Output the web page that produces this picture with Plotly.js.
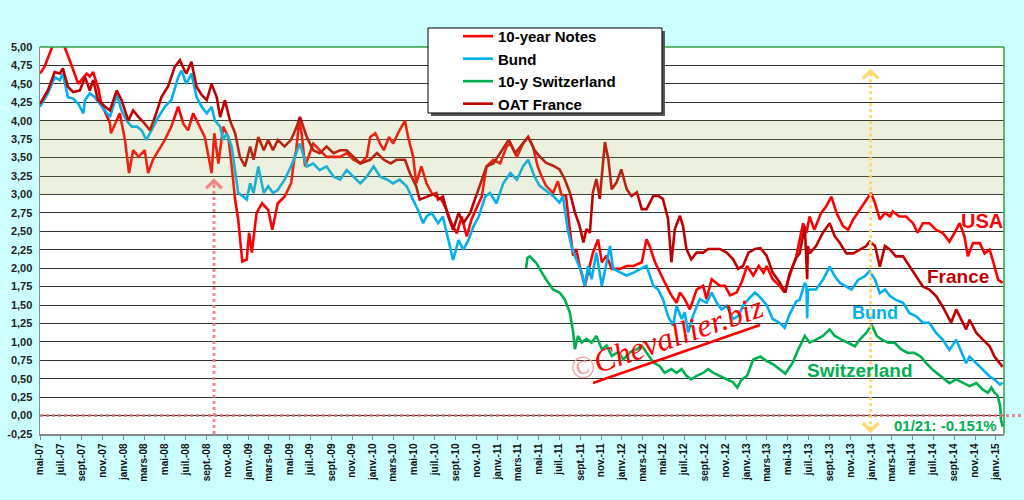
<!DOCTYPE html>
<html>
<head>
<meta charset="utf-8">
<script src="https://cdn.plot.ly/plotly-3.0.1.min.js"></script>
<style>html,body{margin:0;padding:0;background:#CCFFFF;}#chart{width:1024px;height:500px;}</style>
</head>
<body>
<div id="chart"></div>
<script>
// ---------- DATA ----------
const usDates = ['2007-05-01','2007-05-14','2007-06-04','2007-06-13','2007-06-28','2007-07-12','2007-07-27','2007-08-06','2007-08-21','2007-08-30','2007-09-15','2007-09-24','2007-10-04','2007-10-14','2007-10-18','2007-10-28','2007-11-22','2007-11-25','2007-12-07','2007-12-21',
'2008-01-05','2008-01-17','2008-01-29','2008-02-14','2008-03-03','2008-03-13','2008-03-27','2008-04-12','2008-05-01','2008-05-20','2008-06-09','2008-06-24','2008-07-08','2008-07-23','2008-08-07','2008-08-26','2008-09-10','2008-09-15','2008-09-23','2008-10-05','2008-10-19','2008-11-03','2008-11-13','2008-11-23','2008-12-02','2008-12-14','2008-12-27',
'2009-01-03','2009-01-11','2009-01-25','2009-02-10','2009-02-28','2009-03-12','2009-03-28','2009-04-17','2009-05-06','2009-05-15','2009-05-21','2009-05-30','2009-06-06','2009-06-16','2009-07-10','2009-07-29','2009-08-18','2009-09-08','2009-09-27','2009-10-16','2009-11-05','2009-11-25','2009-12-14','2009-12-24',
'2010-01-08','2010-01-22','2010-02-02','2010-02-17','2010-03-01','2010-03-20','2010-04-05','2010-04-14','2010-04-29','2010-05-08','2010-05-23','2010-06-07','2010-06-22','2010-07-06','2010-07-21','2010-08-05','2010-08-19','2010-09-04','2010-09-18','2010-10-03','2010-10-17','2010-11-02','2010-11-16','2010-11-30','2010-12-20',
'2011-01-09','2011-01-28','2011-02-08','2011-02-27','2011-03-17','2011-04-01','2011-04-15','2011-04-29','2011-05-10','2011-05-23','2011-06-13','2011-06-27','2011-07-07','2011-07-21','2011-08-01','2011-08-11','2011-08-20','2011-08-30','2011-09-14','2011-09-29','2011-10-08','2011-10-23','2011-11-03','2011-11-17','2011-12-02','2011-12-26',
'2012-01-15','2012-02-04','2012-02-28','2012-03-13','2012-03-22','2012-04-07','2012-04-21','2012-05-05','2012-05-25','2012-06-09','2012-06-19','2012-07-03','2012-07-18','2012-08-07','2012-08-26','2012-09-05','2012-09-20','2012-10-14','2012-10-29','2012-11-13','2012-12-02','2012-12-17',
'2013-01-02','2013-01-20','2013-02-05','2013-02-19','2013-02-28','2013-03-18','2013-04-07','2013-04-22','2013-05-06','2013-05-26','2013-06-15','2013-06-25','2013-07-04','2013-07-18','2013-08-07','2013-08-22','2013-09-06','2013-09-21','2013-10-10','2013-10-25','2013-11-09','2013-11-28','2013-12-17','2013-12-31',
'2014-01-12','2014-01-26','2014-02-10','2014-02-25','2014-03-05','2014-03-24','2014-04-13','2014-05-03','2014-05-17','2014-06-01','2014-06-20','2014-07-10','2014-07-29','2014-08-18','2014-09-02','2014-09-17','2014-10-01','2014-10-11','2014-10-26','2014-11-15','2014-11-29','2014-12-14','2014-12-23','2015-01-08','2015-01-21'];
const usYield = [4.64,4.73,4.98,5.2,5.1,5.0,4.82,4.68,4.5,4.55,4.64,4.6,4.66,4.51,4.46,4.23,3.97,3.83,3.96,4.1,
3.74,3.29,3.6,3.51,3.6,3.29,3.47,3.6,3.74,3.92,4.19,3.96,3.87,4.1,3.96,3.78,3.42,3.29,3.83,3.42,3.92,3.78,3.38,2.93,2.66,2.09,2.12,
2.48,2.21,2.75,2.88,2.79,2.52,2.88,2.97,3.15,3.47,3.6,4.0,3.83,3.38,3.69,3.6,3.51,3.51,3.51,3.56,3.47,3.42,3.51,3.78,
3.83,3.69,3.6,3.78,3.69,3.87,4.0,3.78,3.51,3.15,3.38,3.15,3.02,2.97,2.93,2.79,2.61,2.47,2.7,2.43,2.66,2.83,2.97,3.38,3.47,
3.42,3.65,3.69,3.51,3.69,3.78,3.65,3.38,3.25,3.12,3.02,3.18,3.0,2.98,2.53,2.17,2.26,2.03,1.76,2.03,2.21,2.39,2.08,2.17,1.99,1.99,
2.03,2.03,2.08,2.39,2.3,2.08,1.94,1.81,1.63,1.53,1.67,1.58,1.44,1.71,1.76,1.58,1.85,1.76,1.76,1.63,1.67,1.81,
2.03,1.9,2.03,1.94,2.03,1.85,1.76,1.67,1.89,2.16,2.61,2.48,2.7,2.52,2.75,2.84,2.97,2.75,2.57,2.52,2.66,2.79,2.93,3.02,
2.88,2.66,2.75,2.7,2.77,2.7,2.7,2.61,2.48,2.61,2.61,2.52,2.48,2.36,2.48,2.61,2.43,2.16,2.34,2.34,2.2,2.25,2.11,1.84,1.8];

const deDates = ['2007-05-01','2007-05-24','2007-06-13','2007-06-28','2007-07-07','2007-07-22','2007-08-06','2007-08-21','2007-09-05','2007-09-10','2007-09-24','2007-10-09','2007-10-23','2007-11-08','2007-11-22','2007-12-12','2007-12-26',
'2008-01-10','2008-01-25','2008-02-09','2008-02-23','2008-03-08','2008-03-23','2008-04-12','2008-05-01','2008-05-20','2008-06-09','2008-06-19','2008-07-03','2008-07-18','2008-08-02','2008-08-17','2008-09-01','2008-09-15','2008-09-25','2008-10-10','2008-10-19','2008-10-29','2008-11-13','2008-11-23','2008-12-02','2008-12-17','2008-12-27',
'2009-01-06','2009-01-16','2009-01-30','2009-02-15','2009-02-28','2009-03-14','2009-03-28','2009-04-17','2009-05-06','2009-05-21','2009-06-01','2009-06-21','2009-07-10','2009-07-29','2009-08-18','2009-09-08','2009-09-27','2009-10-16','2009-11-05','2009-11-25','2009-12-14',
'2010-01-03','2010-01-22','2010-02-12','2010-03-01','2010-03-20','2010-04-10','2010-04-24','2010-05-13','2010-05-28','2010-06-07','2010-06-22','2010-07-11','2010-07-25','2010-08-10','2010-08-24','2010-09-09','2010-09-23','2010-10-08','2010-10-22','2010-11-07','2010-11-26','2010-12-10','2010-12-29',
'2011-01-18','2011-02-08','2011-02-27','2011-03-17','2011-04-01','2011-04-20','2011-05-04','2011-05-23','2011-06-13','2011-07-02','2011-07-12','2011-07-26','2011-08-06','2011-08-20','2011-09-05','2011-09-14','2011-09-24','2011-10-04','2011-10-18','2011-11-03','2011-11-17','2011-11-27','2011-12-06','2011-12-26',
'2012-01-15','2012-02-04','2012-02-23','2012-03-13','2012-04-02','2012-04-16','2012-04-30','2012-05-15','2012-05-30','2012-06-09','2012-06-24','2012-07-03','2012-07-13','2012-07-27','2012-08-16','2012-09-05','2012-09-20','2012-10-05','2012-10-19','2012-11-03','2012-11-22','2012-12-07','2012-12-21',
'2013-01-06','2013-01-25','2013-02-10','2013-02-28','2013-03-18','2013-04-07','2013-04-22','2013-05-06','2013-05-26','2013-06-05','2013-06-20','2013-06-25','2013-06-27','2013-06-29','2013-07-04','2013-07-23','2013-08-12','2013-09-01','2013-09-16','2013-10-01','2013-10-20','2013-11-04','2013-11-23','2013-12-13','2013-12-27',
'2014-01-12','2014-01-26','2014-02-10','2014-02-25','2014-03-14','2014-04-04','2014-04-23','2014-05-12','2014-06-01','2014-06-20','2014-07-10','2014-07-29','2014-08-18','2014-09-07','2014-09-22','2014-10-06','2014-10-16','2014-11-05','2014-11-24','2014-12-14','2014-12-28','2015-01-13','2015-01-21'];
const deYield = [4.19,4.37,4.59,4.55,4.64,4.32,4.3,4.23,4.1,4.28,4.37,4.32,4.23,4.14,4.05,4.35,4.14,
4.0,3.92,3.92,3.87,3.74,3.87,4.05,4.19,4.28,4.59,4.68,4.5,4.64,4.32,4.19,4.1,4.19,4.0,3.92,3.74,3.83,3.65,3.29,3.02,2.97,2.93,
3.15,3.02,3.38,3.02,3.11,3.02,3.06,3.2,3.38,3.55,3.69,3.38,3.42,3.33,3.38,3.24,3.2,3.33,3.24,3.15,3.24,
3.38,3.24,3.2,3.15,3.2,3.11,2.97,2.79,2.61,2.7,2.75,2.61,2.7,2.38,2.11,2.38,2.25,2.38,2.56,2.7,2.97,3.02,2.88,
3.15,3.29,3.2,3.38,3.47,3.24,3.12,3.05,2.98,2.89,2.98,2.53,2.3,2.12,1.94,1.76,2.03,1.85,2.21,1.76,2.08,2.3,1.99,1.94,
1.9,1.94,1.99,2.03,1.76,1.71,1.58,1.35,1.22,1.49,1.31,1.4,1.13,1.35,1.58,1.53,1.67,1.53,1.44,1.49,1.31,1.35,1.49,
1.58,1.67,1.6,1.5,1.31,1.26,1.19,1.37,1.55,1.57,1.8,1.75,1.32,1.7,1.71,1.71,1.84,2.02,1.89,1.8,1.75,1.71,1.84,1.89,1.96,
1.84,1.66,1.71,1.62,1.57,1.53,1.39,1.35,1.26,1.26,1.12,1.03,0.89,1.03,0.85,0.71,0.8,0.71,0.62,0.53,0.49,0.42,0.45];

const chDates = ['2011-03-26','2011-03-30','2011-04-06','2011-04-25','2011-05-14','2011-05-23','2011-06-13','2011-07-02','2011-07-17','2011-08-01','2011-08-11','2011-08-16','2011-08-25','2011-09-05','2011-09-19','2011-10-04','2011-10-18','2011-11-03','2011-11-17','2011-12-02','2011-12-21',
'2012-01-05','2012-01-25','2012-02-14','2012-02-28','2012-03-13','2012-04-02','2012-04-21','2012-05-05','2012-05-25','2012-06-09','2012-06-24','2012-07-08','2012-07-22','2012-08-07','2012-08-26','2012-09-10','2012-09-25','2012-10-14','2012-11-03','2012-11-22','2012-12-04','2012-12-17',
'2013-01-02','2013-01-20','2013-02-10','2013-02-28','2013-03-18','2013-04-07','2013-04-24','2013-05-16','2013-05-30','2013-06-20','2013-07-04','2013-07-23','2013-08-12','2013-09-01','2013-09-16','2013-10-06','2013-10-25','2013-11-14','2013-11-28','2013-12-17',
'2014-01-02','2014-01-17','2014-02-01','2014-02-20','2014-03-10','2014-03-29','2014-04-18','2014-05-07','2014-05-26','2014-06-11','2014-06-30','2014-07-24','2014-08-18','2014-09-07','2014-09-27','2014-10-16','2014-11-05','2014-11-24','2014-12-09','2014-12-19','2014-12-28',
'2015-01-05','2015-01-09','2015-01-14','2015-01-16','2015-01-21'];
const chYield = [2.0,2.14,2.16,2.07,1.92,1.85,1.71,1.67,1.58,1.4,1.13,0.9,1.08,0.99,1.04,0.99,1.08,0.9,0.95,0.81,0.86,
0.76,0.86,0.9,0.95,0.86,0.72,0.67,0.58,0.63,0.58,0.63,0.54,0.49,0.54,0.58,0.63,0.58,0.54,0.49,0.45,0.38,0.49,
0.54,0.76,0.8,0.74,0.7,0.63,0.57,0.72,0.88,1.08,0.99,1.03,1.08,1.17,1.08,1.03,0.99,0.94,1.03,1.12,
1.23,1.08,1.03,0.99,0.99,0.9,0.85,0.85,0.8,0.71,0.62,0.53,0.44,0.49,0.44,0.4,0.44,0.35,0.31,0.38,0.31,
0.28,0.22,0.12,-0.05,-0.15];

const frDates = ['2007-05-01','2007-05-24','2007-06-13','2007-06-28','2007-07-07','2007-07-22','2007-08-06','2007-08-26','2007-09-10','2007-09-24','2007-10-04','2007-10-18','2007-11-08','2007-11-22','2007-12-12','2007-12-26',
'2008-01-15','2008-01-29','2008-02-14','2008-03-03','2008-03-18','2008-04-02','2008-04-21','2008-05-10','2008-05-30','2008-06-14','2008-06-28','2008-07-03','2008-07-18','2008-08-02','2008-08-17','2008-09-01','2008-09-15','2008-09-30','2008-10-10','2008-10-24','2008-11-08','2008-11-23','2008-12-07','2008-12-22',
'2009-01-06','2009-01-16','2009-01-30','2009-02-15','2009-02-28','2009-03-14','2009-03-28','2009-04-17','2009-05-06','2009-05-21','2009-06-01','2009-06-21','2009-07-10','2009-07-29','2009-08-18','2009-09-08','2009-09-27','2009-10-16','2009-11-05','2009-11-25','2009-12-24',
'2010-01-13','2010-02-02','2010-02-22','2010-03-11','2010-04-05','2010-04-19','2010-05-08','2010-05-18','2010-06-07','2010-07-06','2010-07-11','2010-07-25','2010-08-10','2010-08-24','2010-09-09','2010-09-23','2010-10-13','2010-10-27','2010-11-11','2010-11-30','2010-12-20',
'2011-01-09','2011-02-03','2011-02-22','2011-03-17','2011-04-01','2011-04-20','2011-05-04','2011-05-23','2011-06-13','2011-07-02','2011-07-17','2011-08-01','2011-08-16','2011-08-30','2011-09-10','2011-09-19','2011-09-29','2011-10-08','2011-10-18','2011-10-28','2011-11-12','2011-11-22','2011-12-02','2011-12-16','2011-12-30',
'2012-01-15','2012-01-29','2012-02-14','2012-02-28','2012-03-13','2012-04-02','2012-04-16','2012-04-30','2012-05-15','2012-05-25','2012-06-04','2012-06-19','2012-06-28','2012-07-08','2012-07-22','2012-08-07','2012-08-26','2012-09-10','2012-09-25','2012-10-14','2012-11-03','2012-11-22','2012-12-07','2012-12-21',
'2013-01-06','2013-01-25','2013-02-10','2013-02-28','2013-03-18','2013-04-07','2013-04-24','2013-05-06','2013-05-26','2013-06-05','2013-06-20','2013-06-27','2013-06-29','2013-07-04','2013-07-23','2013-08-12','2013-09-01','2013-09-16','2013-10-01','2013-10-20','2013-11-09','2013-11-28','2013-12-17','2013-12-27',
'2014-01-12','2014-01-26','2014-02-10','2014-02-25','2014-03-14','2014-04-04','2014-04-23','2014-05-12','2014-06-01','2014-06-20','2014-07-10','2014-07-29','2014-08-23','2014-09-07','2014-09-22','2014-10-06','2014-10-16','2014-11-05','2014-11-24','2014-12-14','2014-12-28','2015-01-11','2015-01-21'];
const frYield = [4.23,4.41,4.66,4.64,4.71,4.46,4.39,4.41,4.59,4.41,4.55,4.28,4.19,4.14,4.41,4.28,
4.0,4.14,4.05,3.96,3.87,4.05,4.32,4.46,4.73,4.82,4.68,4.64,4.8,4.46,4.35,4.28,4.5,4.32,4.05,4.28,4.0,3.83,3.51,3.38,
3.65,3.47,3.78,3.6,3.74,3.6,3.74,3.65,3.74,3.9,4.05,3.78,3.6,3.56,3.65,3.56,3.6,3.6,3.51,3.42,3.47,
3.56,3.47,3.42,3.47,3.47,3.29,3.11,2.93,2.97,3.02,2.93,2.97,2.7,2.52,2.75,2.61,2.75,2.93,3.11,3.38,3.42,
3.56,3.74,3.56,3.69,3.78,3.6,3.52,3.43,3.39,3.34,3.21,3.03,2.76,2.57,2.35,2.53,2.48,3.03,3.21,2.94,3.71,3.48,3.07,3.16,3.34,
3.07,2.98,3.03,2.8,2.8,2.98,2.98,2.94,2.67,2.08,2.53,2.71,2.57,2.26,2.12,2.21,2.21,2.26,2.26,2.26,2.21,2.12,1.99,2.03,
2.21,2.26,2.27,2.17,1.94,1.81,1.67,1.92,2.14,2.2,2.57,1.85,2.3,2.2,2.3,2.48,2.61,2.43,2.34,2.2,2.2,2.25,2.3,2.36,
2.3,2.02,2.3,2.25,2.16,2.16,2.02,1.89,1.75,1.71,1.62,1.48,1.26,1.44,1.3,1.17,1.3,1.12,1.03,0.94,0.8,0.72,0.66];

const seriesNames = ['10-year Notes','Bund','10-y Switzerland','OAT France'];
const seriesColors = ['#FF0000','#00B0F0','#00B050','#C00000'];

const tickDates = ['2007-05-01','2007-07-01','2007-09-01','2007-11-01',
'2008-01-01','2008-03-01','2008-05-01','2008-07-01','2008-09-01','2008-11-01',
'2009-01-01','2009-03-01','2009-05-01','2009-07-01','2009-09-01','2009-11-01',
'2010-01-01','2010-03-01','2010-05-01','2010-07-01','2010-09-01','2010-11-01',
'2011-01-01','2011-03-01','2011-05-01','2011-07-01','2011-09-01','2011-11-01',
'2012-01-01','2012-03-01','2012-05-01','2012-07-01','2012-09-01','2012-11-01',
'2013-01-01','2013-03-01','2013-05-01','2013-07-01','2013-09-01','2013-11-01',
'2014-01-01','2014-03-01','2014-05-01','2014-07-01','2014-09-01','2014-11-01',
'2015-01-01'];
const tickLabels = ['mai-07','juil.-07','sept.-07','nov.-07',
'janv.-08','mars-08','mai-08','juil.-08','sept.-08','nov.-08',
'janv.-09','mars-09','mai-09','juil.-09','sept.-09','nov.-09',
'janv.-10','mars-10','mai-10','juil.-10','sept.-10','nov.-10',
'janv.-11','mars-11','mai-11','juil.-11','sept.-11','nov.-11',
'janv.-12','mars-12','mai-12','juil.-12','sept.-12','nov.-12',
'janv.-13','mars-13','mai-13','juil.-13','sept.-13','nov.-13',
'janv.-14','mars-14','mai-14','juil.-14','sept.-14','nov.-14',
'janv.-15'];
const yTickVals = [-0.25,0,0.25,0.5,0.75,1,1.25,1.5,1.75,2,2.25,2.5,2.75,3,3.25,3.5,3.75,4,4.25,4.5,4.75,5];
const xRange = ['2007-05-01','2015-01-25'];
const yRange = [-0.25, 5];
const bandRange = [3, 4];
const eventDates = ['2008-09-22','2013-12-30'];
const lastSwiss = '01/21: -0.151%';

// ---------- CHART ----------
const F = 'Liberation Sans, Arial, sans-serif';
const xs = [usDates, deDates, chDates, frDates];
const ys = [usYield, deYield, chYield, frYield];
const traces = seriesNames.map((n, i) => ({
  type: 'scatter', mode: 'lines', name: n, x: xs[i], y: ys[i],
  line: {color: seriesColors[i], width: 2.6}, hoverinfo: 'skip'
}));

const pink = 'rgba(238,118,118,0.85)';
const yellow = 'rgba(255,212,100,0.9)';
function label(x, y, text, size, color) {
  return {x: x, y: y, xref: 'paper', yref: 'paper', xanchor: 'center', yanchor: 'middle', text: text, showarrow: false,
          font: {family: F, size: size, color: color, weight: 'bold'}};
}
const layout = {
  width: 1024, height: 500,
  paper_bgcolor: '#CCFFFF', plot_bgcolor: '#FFFFFF',
  margin: {l: 40, r: 20, t: 47, b: 66, pad: 0},
  showlegend: true,
  legend: {x: 0.4025, y: 1.070, xanchor: 'left', yanchor: 'top', bgcolor: 'rgba(0,0,0,0)', borderwidth: 0,
           font: {family: F, size: 15, color: '#000', weight: 'bold'}, indentation: 30, itemwidth: 30, tracegroupgap: 0},
  xaxis: {type: 'date', range: xRange, tickmode: 'array', tickvals: tickDates, ticktext: tickLabels, tickangle: -90,
          tickfont: {family: F, size: 10, color: '#111', weight: 'bold'}, ticks: 'outside', ticklen: 4, tickcolor: '#888',
          showline: true, linecolor: '#888', linewidth: 1.5, showgrid: false, zeroline: false},
  yaxis: {range: yRange, tickmode: 'array', tickvals: yTickVals, ticktext: yTickVals.map(v => v.toFixed(2).replace('.', ',')),
          tickfont: {family: F, size: 11, color: '#222', weight: 'bold'}, ticks: '', ticklabelstandoff: 4,
          showgrid: true, gridcolor: '#333', gridwidth: 1, zeroline: false, showline: true, linecolor: '#888', linewidth: 1.5},
  shapes: [
    {type: 'rect', xref: 'paper', yref: 'y', x0: 0, x1: 1, y0: bandRange[0], y1: bandRange[1], fillcolor: 'rgba(155,187,89,0.2)', line: {width: 0}, layer: 'above'},
    {type: 'line', xref: 'paper', yref: 'paper', x0: 0, x1: 1, y0: 1, y1: 1, line: {color: '#2EA043', width: 1.5}, layer: 'above'},
    {type: 'line', xref: 'paper', yref: 'paper', x0: 1, x1: 1, y0: 0, y1: 1, line: {color: '#2EA043', width: 1.5}, layer: 'above'},
    {type: 'line', xref: 'paper', yref: 'y', x0: 0, x1: 1.018, y0: 0, y1: 0, line: {color: pink, width: 3, dash: 'dot'}, layer: 'above'},
    {type: 'line', xref: 'x', yref: 'y', x0: eventDates[0], x1: eventDates[0], y0: -0.25, y1: 3.15, line: {color: pink, width: 3, dash: 'dot'}, layer: 'above'},
    {type: 'line', xref: 'x', yref: 'y', x0: eventDates[1], x1: eventDates[1], y0: -0.2, y1: 4.65, line: {color: yellow, width: 3, dash: 'dot'}, layer: 'above'},
    {type: 'rect', xref: 'paper', yref: 'paper', x0: 0.4056, x1: 0.6483, y0: 0.8217, y1: 1.0413, fillcolor: '#555', line: {width: 0}, layer: 'above'},
    {type: 'rect', xref: 'paper', yref: 'paper', x0: 0.4025, x1: 0.6452, y0: 0.8295, y1: 1.0491, fillcolor: '#FFFFFF', line: {color: '#000', width: 1}, layer: 'above'},
    {type: 'line', xref: 'paper', yref: 'paper', x0: 0.5737, x1: 0.7469, y0: 0.1318, y1: 0.2817, line: {color: '#FF0000', width: 2.5}, layer: 'above'}
  ],
  annotations: [
    {x: eventDates[0], y: 3.22, xref: 'x', yref: 'y', text: '', showarrow: true, arrowhead: 4, arrowsize: 1, arrowwidth: 3, arrowcolor: pink, ax: 0, ay: 8},
    {x: eventDates[1], y: 4.71, xref: 'x', yref: 'y', text: '', showarrow: true, arrowhead: 4, arrowsize: 1, arrowwidth: 3, arrowcolor: yellow, ax: 0, ay: 8},
    {x: eventDates[1], y: -0.24, xref: 'x', yref: 'y', text: '', showarrow: true, arrowhead: 4, arrowsize: 1, arrowwidth: 3, arrowcolor: yellow, ax: 0, ay: -8},
    label(0.9772, 0.5504, 'USA', 20, '#FF0000'),
    label(0.9523, 0.4057, 'France', 19, '#C00000'),
    label(0.8662, 0.3127, 'Bund', 18, '#00B0F0'),
    label(0.8506, 0.1628, 'Switzerland', 19, '#00B050'),
    label(0.9398, 0.0207, lastSwiss, 15, '#00B050'),
    {x: 0.6504, y: 0.248, xref: 'paper', yref: 'paper', xanchor: 'center', yanchor: 'middle', textangle: -19, showarrow: false,
     text: '<span style="color:#F59A9A">©</span><i>Chevallier.biz</i>', font: {family: 'Liberation Serif, DejaVu Serif, serif', size: 32, color: '#FF0000'}}
  ]
};

Plotly.newPlot('chart', traces, layout, {staticPlot: true, displayModeBar: false});
</script>
</body>
</html>
